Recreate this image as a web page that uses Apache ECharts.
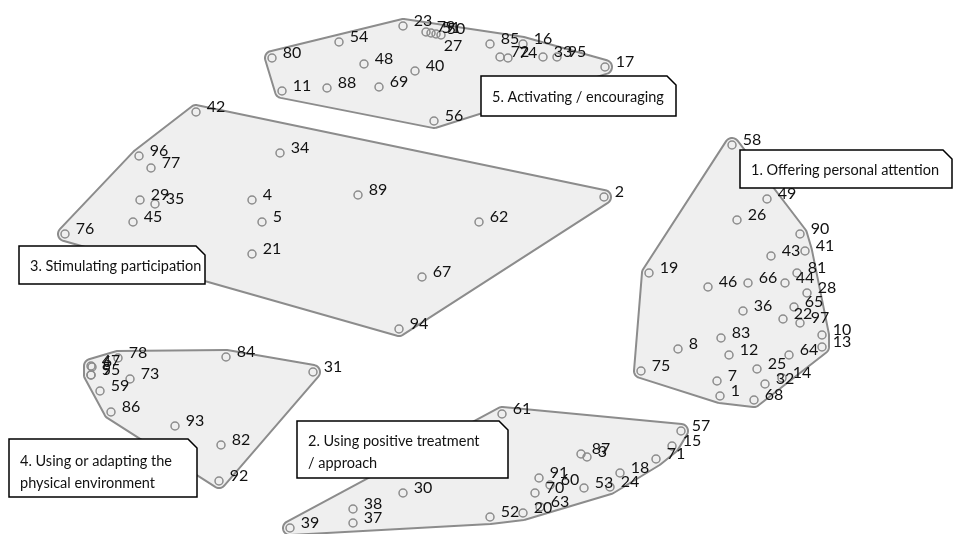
<!DOCTYPE html>
<html><head><meta charset="utf-8">
<script src="https://cdn.jsdelivr.net/npm/echarts@6.0.0/dist/echarts.min.js"></script>
<style>html,body{margin:0;padding:0;background:#fff}#c{width:956px;height:534px}</style>
</head><body><div id="c"></div>
<script>
// [statement id, x, y] in map coordinates
const cluster1 = [[58,732,145],[49,767,199],[26,737,220],[90,800,234],[41,805,251],[43,771,256],[19,649,273],[81,797,273],[46,708,287],[66,748,283],[44,785,283],[28,807,293],[36,743,311],[65,794,307],[22,783,319],[97,800,323],[10,822,335],[13,822,347],[83,721,338],[8,678,349],[12,729,355],[64,789,355],[75,641,371],[25,757,369],[7,717,381],[32,765,384],[14,782,378],[1,720,396],[68,754,400]];
const cluster2 = [[61,502,414],[57,681,431],[15,672,446],[71,656,459],[87,581,454],[3,587,457],[18,620,473],[24,610,487],[91,539,478],[60,550,485],[70,535,493],[53,584,488],[63,540,507],[20,523,513],[52,490,517],[30,403,493],[38,353,509],[37,353,523],[39,290,528]];
const cluster3 = [[42,196,112],[96,139,156],[77,151,168],[34,280,153],[29,140,200],[35,155,204],[4,252,200],[89,358,195],[2,604,197],[45,133,222],[5,262,222],[62,479,222],[76,65,234],[21,252,254],[67,422,277],[94,399,329]];
const cluster4 = [[47,91,366],[6,92,367],[9,91,375],[55,91,375],[78,118,358],[73,130,379],[59,100,391],[86,111,412],[93,175,426],[84,226,357],[31,313,372],[82,221,445],[92,219,481]];
const cluster5 = [[80,272,58],[54,339,42],[23,403,26],[79,426,32],[51,431,33],[50,436,34],[27,441,35],[48,364,64],[40,415,71],[11,282,91],[88,327,88],[69,379,87],[56,434,121],[85,490,44],[16,523,44],[72,500,57],[74,508,58],[33,543,57],[95,557,57],[17,605,67]];
const clusterNames = ["1. Offering personal attention","2. Using positive treatment\n/ approach","3. Stimulating participation","4. Using or adapting the\nphysical environment","5. Activating / encouraging"];

const clusters = [cluster1, cluster2, cluster3, cluster4, cluster5];

// label boxes (layout only)
const boxes = [
  {c:0, x:740, y:150, w:212, h:38, ty:170},
  {c:1, x:297, y:421, w:211, h:57, ty:452},
  {c:2, x:19,  y:246, w:186, h:38, ty:266},
  {c:3, x:9,   y:439, w:188, h:58, ty:472},
  {c:4, x:481, y:76,  w:195, h:40, ty:97}
];
const labelShift = {27:[-7,11]};

function convexHull(P){
  const pts=P.slice().sort((a,b)=>a[0]-b[0]||a[1]-b[1]);
  const cross=(o,a,b)=>(a[0]-o[0])*(b[1]-o[1])-(a[1]-o[1])*(b[0]-o[0]);
  const lower=[];for(const p of pts){while(lower.length>=2&&cross(lower[lower.length-2],lower[lower.length-1],p)<=0)lower.pop();lower.push(p);}
  const upper=[];for(let i=pts.length-1;i>=0;i--){const p=pts[i];while(upper.length>=2&&cross(upper[upper.length-2],upper[upper.length-1],p)<=0)upper.pop();upper.push(p);}
  upper.pop();lower.pop();return lower.concat(upper);
}
function roundHull(h,r){
  const n=h.length;let cx=0,cy=0;h.forEach(p=>{cx+=p[0];cy+=p[1];});cx/=n;cy/=n;
  const normals=[];
  for(let i=0;i<n;i++){const a=h[i],b=h[(i+1)%n];const dx=b[0]-a[0],dy=b[1]-a[1];const L=Math.hypot(dx,dy)||1;let nx=dy/L,ny=-dx/L;const mx=(a[0]+b[0])/2-cx,my=(a[1]+b[1])/2-cy;if(nx*mx+ny*my<0){nx=-nx;ny=-ny;}normals.push([nx,ny]);}
  const out=[];
  for(let i=0;i<n;i++){const v=h[i];const n0=normals[(i-1+n)%n],n1=normals[i];const a0=Math.atan2(n0[1],n0[0]),a1=Math.atan2(n1[1],n1[0]);let d=a1-a0;while(d>Math.PI)d-=2*Math.PI;while(d<-Math.PI)d+=2*Math.PI;const steps=Math.max(1,Math.ceil(Math.abs(d)/0.15));for(let k=0;k<=steps;k++){const a=a0+d*k/steps;out.push([v[0]+r*Math.cos(a),v[1]+r*Math.sin(a)]);}}
  return out;
}

const pointData = [];
clusters.forEach(c=>c.forEach(p=>{
  const item={name:String(p[0]),value:[p[1],p[2]]};
  if(labelShift[p[0]]) item.label={offset:labelShift[p[0]]};
  pointData.push(item);
}));

const graphics = [];
boxes.forEach(b=>{
  const cut=9;
  graphics.push({type:'polygon',z:100,shape:{points:[[b.x,b.y],[b.x+b.w-cut,b.y],[b.x+b.w,b.y+cut],[b.x+b.w,b.y+b.h],[b.x,b.y+b.h]]},
    style:{fill:'#fff',stroke:'#000',lineWidth:1.5}});
  graphics.push({type:'text',z:101,x:b.x+11,y:b.ty,style:{text:clusterNames[b.c],font:'14.5px Lato',fill:'#111',verticalAlign:'middle',lineHeight:22}});
});

const chart = echarts.init(document.getElementById('c'));
chart.setOption({
  animation:false,
  grid:{left:0,right:0,top:0,bottom:0},
  xAxis:{type:'value',min:0,max:956,show:false},
  yAxis:{type:'value',min:0,max:534,inverse:true,show:false},
  graphic:graphics,
  series:[
    {type:'custom',z:1,silent:true,
     data:clusters.map((c,i)=>[c[0][1],c[0][2],i]),
     encode:{x:0,y:1},
     renderItem:function(params,api){
       const c=clusters[params.dataIndex];
       const pts=c.map(p=>api.coord([p[1],p[2]]));
       const poly=roundHull(convexHull(pts),7);
       return {type:'polygon',shape:{points:poly},style:{fill:'#efefef',stroke:'#8c8c8c',lineWidth:2}};
     }},
    {type:'scatter',z:5,data:pointData,symbol:'circle',symbolSize:8,
     itemStyle:{color:'rgba(0,0,0,0)',borderColor:'#8c8c8c',borderWidth:1.5,opacity:1},
     label:{show:true,position:'right',distance:5,offset:[1,-5],formatter:'{b}',color:'#111',fontFamily:'Lato',fontSize:16},
     emphasis:{disabled:true}}
  ]
});
</script></body></html>
